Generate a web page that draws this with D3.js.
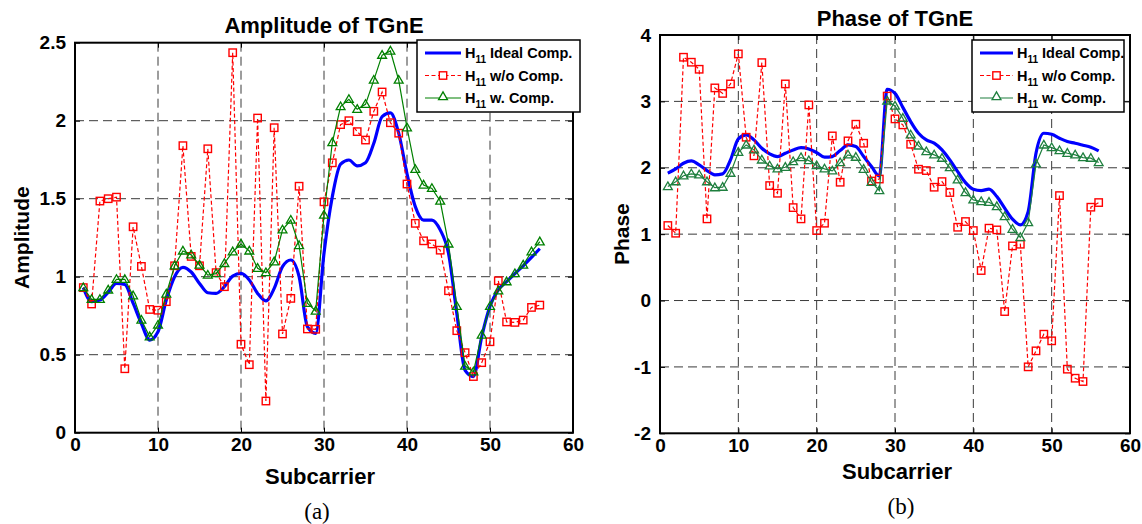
<!DOCTYPE html>
<html>
<head>
<meta charset="utf-8">
<script src="https://cdn.jsdelivr.net/npm/d3@7"></script>
<style>
  body { margin: 0; background: #fff; }
  svg { display: block; font-family: "Liberation Sans", Arial, sans-serif; }
</style>
</head>
<body>
<svg id="fig" width="1142" height="524"></svg>
<script>
// subcarrier index
var subcarriers = [1,2,3,4,5,6,7,8,9,10,11,12,13,14,15,16,17,18,19,20,21,22,23,24,25,26,27,28,
  29,30,31,32,33,34,35,36,37,38,39,40,41,42,43,44,45,46,47,48,49,50,51,52,53,54,55,56];

// amplitude, panel (a)
var ampIdeal = [0.93,0.84,0.85,0.90,0.957,0.95,0.83,0.70,0.594,0.647,0.85,1.0,1.06,1.03,0.957,0.897,
  0.893,0.936,1.004,1.021,0.979,0.893,0.845,0.925,1.064,1.107,1.0,0.68,0.637,1.15,1.513,1.722,1.748,
  1.71,1.73,1.855,2.026,2.05,1.92,1.66,1.449,1.363,1.363,1.30,1.15,0.765,0.40,0.36,0.615,0.81,0.915,
  0.968,1.02,1.07,1.124,1.18];
var ampNoComp = [0.93,0.825,1.485,1.50,1.51,0.41,1.32,1.066,0.79,0.785,0.84,1.07,1.84,1.13,1.07,1.82,
  1.026,0.936,2.436,0.567,0.436,2.017,0.203,1.955,0.633,0.861,1.58,0.665,0.663,1.48,1.73,1.975,2.0,
  1.93,1.876,2.06,2.184,1.987,1.92,1.594,1.342,1.23,1.21,1.17,0.91,0.654,0.513,0.36,0.449,0.583,0.974,
  0.71,0.707,0.722,0.803,0.818];
var ampComp = [0.93,0.855,0.855,0.915,0.983,0.983,0.878,0.722,0.615,0.69,0.889,1.07,1.165,1.14,1.075,
  1.01,1.02,1.085,1.16,1.21,1.165,1.054,1.026,1.096,1.30,1.363,1.20,0.83,0.78,1.395,1.86,2.09,2.137,
  2.073,2.105,2.26,2.42,2.447,2.26,1.955,1.688,1.588,1.566,1.485,1.21,0.81,0.427,0.39,0.626,0.81,0.91,
  0.968,1.02,1.075,1.16,1.224];

// phase, panel (b)
var phaseIdeal = [1.918,1.983,2.068,2.103,2.043,1.958,1.893,1.908,2.118,2.435,2.495,2.42,2.294,2.209,
  2.169,2.219,2.269,2.304,2.284,2.229,2.159,2.169,2.259,2.344,2.319,2.169,2.018,1.877,3.183,3.12,2.91,
  2.696,2.52,2.42,2.37,2.269,2.118,1.943,1.777,1.677,1.657,1.677,1.566,1.391,1.225,1.14,1.34,2.219,
  2.52,2.505,2.445,2.395,2.37,2.34,2.309,2.254];
var phaseNoComp = [1.13,1.014,3.665,3.59,3.484,1.23,3.203,3.12,3.263,3.715,2.46,2.18,3.584,1.732,1.616,
  3.263,1.40,1.23,2.947,1.054,1.165,2.48,1.782,2.405,2.656,2.37,1.80,1.83,3.08,2.736,2.646,2.354,1.978,
  1.958,1.707,1.792,1.627,1.104,1.19,1.054,0.452,1.09,1.064,-0.166,0.823,0.848,-0.999,-0.758,-0.507,
  -0.607,1.581,-1.034,-1.17,-1.22,1.406,1.476];
var phaseComp = [1.717,1.79,1.88,1.908,1.893,1.79,1.70,1.707,1.918,2.234,2.344,2.27,2.118,2.028,1.983,
  2.008,2.093,2.154,2.108,2.033,1.983,1.953,2.078,2.194,2.159,1.978,1.782,1.657,3.007,2.93,2.746,2.495,
  2.329,2.244,2.194,2.144,2.003,1.817,1.627,1.516,1.491,1.481,1.416,1.265,1.074,0.949,1.175,2.058,2.344,
  2.304,2.259,2.219,2.194,2.154,2.144,2.078];

var xTicks = [0, 10, 20, 30, 40, 50, 60];
var ampTicks = [0, 0.5, 1, 1.5, 2, 2.5];
var phaseTicks = [-2, -1, 0, 1, 2, 3, 4];
var legendNames = [' Ideal Comp.', ' w/o Comp.', ' w. Comp.'];

var svg = d3.select('#fig');

function drawPanel(o) {
  var x = d3.scaleLinear().domain([0, 60]).range([o.left, o.right]);
  var y = d3.scaleLinear().domain(o.yDomain).range([o.bottom, o.top]);
  var g = svg.append('g');

  // dashed grid
  g.selectAll('.gx').data(xTicks.slice(1, -1)).enter().append('line')
    .attr('x1', d => x(d)).attr('x2', d => x(d))
    .attr('y1', o.top).attr('y2', o.bottom)
    .attr('stroke', '#3a3a3a').attr('stroke-width', 1).attr('stroke-dasharray', '9,5');
  g.selectAll('.gy').data(o.yTicks.slice(1, -1)).enter().append('line')
    .attr('y1', d => y(d)).attr('y2', d => y(d))
    .attr('x1', o.left).attr('x2', o.right)
    .attr('stroke', '#3a3a3a').attr('stroke-width', 1).attr('stroke-dasharray', '9,5');

  // axes with inward ticks, labels
  var xb = d3.axisBottom(x).tickValues(xTicks).tickSize(-5).tickPadding(5).tickFormat(d3.format('d'));
  var xt = d3.axisTop(x).tickValues(xTicks).tickSize(-5).tickFormat('');
  var yl = d3.axisLeft(y).tickValues(o.yTicks).tickSize(-5).tickPadding(9).tickFormat(d => String(d));
  var yr = d3.axisRight(y).tickValues(o.yTicks).tickSize(-5).tickFormat('');

  [[xb, 'translate(0,' + o.bottom + ')'], [xt, 'translate(0,' + o.top + ')'],
   [yl, 'translate(' + o.left + ',0)'], [yr, 'translate(' + o.right + ',0)']].forEach(function(a) {
    var ax = g.append('g').attr('transform', a[1]).call(a[0]);
    ax.select('.domain').remove();
    ax.selectAll('line').attr('stroke', '#000').attr('stroke-width', 1);
    ax.selectAll('text').attr('font-size', 19).attr('font-weight', 'bold')
      .attr('font-family', '"Liberation Sans", Arial, sans-serif').attr('fill', '#000');
  });

  // box
  g.append('rect').attr('x', o.left).attr('y', o.top)
    .attr('width', o.right - o.left).attr('height', o.bottom - o.top)
    .attr('fill', 'none').attr('stroke', '#000').attr('stroke-width', 2);

  var pts = function(vals) { return subcarriers.map((s, i) => [x(s), y(vals[i])]); };

  // ideal, smooth thick blue
  g.append('path').attr('d', d3.line().curve(d3.curveMonotoneX)(pts(o.ideal)))
    .attr('fill', 'none').attr('stroke', '#0000ff').attr('stroke-width', 3.2)
    .attr('stroke-linejoin', 'round');

  // without compensation, red dashed + squares
  g.append('path').attr('d', d3.line()(pts(o.noComp)))
    .attr('fill', 'none').attr('stroke', '#ff0000').attr('stroke-width', 1.2)
    .attr('stroke-dasharray', '4,2.5');
  g.selectAll('.sq').data(pts(o.noComp)).enter().append('rect')
    .attr('x', d => d[0] - 3.7).attr('y', d => d[1] - 3.7)
    .attr('width', 7.4).attr('height', 7.4)
    .attr('fill', 'none').attr('stroke', '#ff0000').attr('stroke-width', 1.4);

  // with compensation, green + triangles
  g.append('path').attr('d', d3.line()(pts(o.comp)))
    .attr('fill', 'none').attr('stroke', o.green).attr('stroke-width', 1.2);
  var tri = d3.symbol().type(d3.symbolTriangle).size(34);
  g.selectAll('.tri').data(pts(o.comp)).enter().append('path')
    .attr('d', tri).attr('transform', d => 'translate(' + d[0] + ',' + (d[1] + 0.5) + ')')
    .attr('fill', 'none').attr('stroke', o.green).attr('stroke-width', 1.3);

  // texts
  svg.append('text').attr('x', (o.left + o.right) / 2).attr('y', o.titleY)
    .attr('text-anchor', 'middle').attr('font-size', 22).attr('font-weight', 'bold').text(o.title);
  svg.append('text').attr('transform', 'translate(' + o.yLabelX + ',' + ((o.top + o.bottom) / 2) + ') rotate(-90)')
    .attr('text-anchor', 'middle').attr('dy', '0.35em')
    .attr('font-size', 21).attr('font-weight', 'bold').text(o.yLabel);
  svg.append('text').attr('x', o.xLabelX).attr('y', o.xLabelY)
    .attr('text-anchor', 'middle').attr('font-size', 22).attr('font-weight', 'bold').text('Subcarrier');
  svg.append('text').attr('x', o.capX).attr('y', o.capY)
    .attr('text-anchor', 'middle').attr('font-size', 23)
    .attr('font-family', '"Liberation Serif", "Times New Roman", serif').text(o.caption);

  // legend
  var lg = svg.append('g').attr('transform', 'translate(' + o.legX + ',' + o.legY + ')');
  lg.append('rect').attr('width', o.legW).attr('height', 72)
    .attr('fill', '#fff').attr('stroke', '#000').attr('stroke-width', 1.5);
  var rows = [13, 35.5, 58];
  var sx0 = 8, sx1 = sx0 + o.legLine;
  lg.append('line').attr('x1', sx0).attr('x2', sx1).attr('y1', rows[0]).attr('y2', rows[0])
    .attr('stroke', '#0000ff').attr('stroke-width', 3.2);
  lg.append('line').attr('x1', sx0).attr('x2', sx1).attr('y1', rows[1]).attr('y2', rows[1])
    .attr('stroke', '#ff0000').attr('stroke-width', 1.2).attr('stroke-dasharray', '4,2.5');
  lg.append('rect').attr('x', (sx0 + sx1) / 2 - 3.7).attr('y', rows[1] - 3.7)
    .attr('width', 7.4).attr('height', 7.4).attr('fill', '#fff')
    .attr('stroke', '#ff0000').attr('stroke-width', 1.4);
  lg.append('line').attr('x1', sx0).attr('x2', sx1).attr('y1', rows[2]).attr('y2', rows[2])
    .attr('stroke', o.green).attr('stroke-width', 1.2);
  lg.append('path').attr('d', tri)
    .attr('transform', 'translate(' + ((sx0 + sx1) / 2) + ',' + (rows[2] - 1) + ')')
    .attr('fill', '#fff').attr('stroke', o.green).attr('stroke-width', 1.3);
  legendNames.forEach(function(name, i) {
    var t = lg.append('text').attr('x', sx1 + 4).attr('y', rows[i] + 5)
      .attr('font-size', 14.5).attr('font-weight', 'bold');
    t.append('tspan').text('H');
    t.append('tspan').attr('font-size', 10).attr('dy', 5).text('11');
    t.append('tspan').attr('dy', -5).text(name);
  });
}

drawPanel({
  left: 75, right: 573, top: 42.7, bottom: 432.7,
  yDomain: [0, 2.5], yTicks: ampTicks,
  ideal: ampIdeal, noComp: ampNoComp, comp: ampComp, green: '#008000',
  title: 'Amplitude of TGnE', titleY: 33, yLabel: 'Amplitude', yLabelX: 22,
  xLabelX: 320, xLabelY: 484, caption: '(a)', capX: 317, capY: 519,
  legX: 417, legY: 40, legW: 163, legLine: 36
});

drawPanel({
  left: 660, right: 1130, top: 35, bottom: 433.3,
  yDomain: [-2, 4], yTicks: phaseTicks,
  ideal: phaseIdeal, noComp: phaseNoComp, comp: phaseComp, green: '#1e7f3e',
  title: 'Phase of TGnE', titleY: 26, yLabel: 'Phase', yLabelX: 622,
  xLabelX: 897, xLabelY: 479, caption: '(b)', capX: 901, capY: 514,
  legX: 972, legY: 40, legW: 152, legLine: 33
});
</script>
</body>
</html>
